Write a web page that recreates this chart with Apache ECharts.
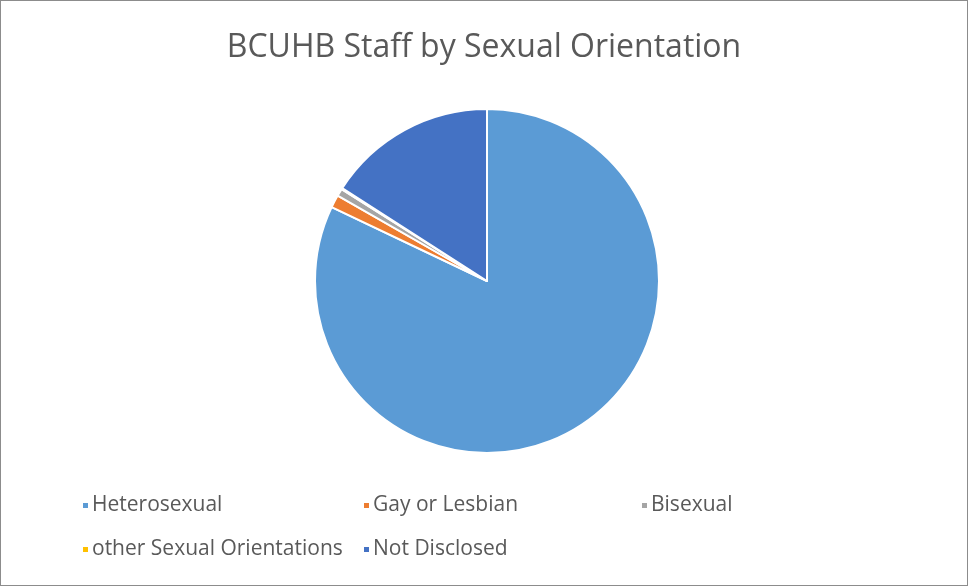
<!DOCTYPE html>
<html><head><meta charset="utf-8">
<script src="https://cdn.jsdelivr.net/npm/echarts@6/dist/echarts.min.js"></script>
<style>
html,body{margin:0;padding:0;background:#fff;}
#c{position:absolute;left:0;top:0;width:966px;height:584px;border:1px solid #8c8c8c;}
</style></head><body>
<div id="c"></div>
<script>
const categories = ["Heterosexual", "Gay or Lesbian", "Bisexual", "other Sexual Orientations", "Not Disclosed"];
const values = [81.9, 1.2, 0.7, 0.1, 15.9];
const colors = ["#5B9BD5", "#ED7D31", "#A5A5A5", "#FFC000", "#4472C4"];
const legendPos = [[75, 489], [356, 489], [634, 489], [75, 533], [356, 533]];

const chart = echarts.init(document.getElementById('c'));
const font = "'Open Sans', 'Noto Sans', sans-serif";
chart.setOption({
  animation: false,
  title: {
    text: "BCUHB Staff by Sexual Orientation",
    left: 'center', top: 26,
    textStyle: {fontFamily: font, fontSize: 32, fontWeight: 'normal', color: '#595959'}
  },
  legend: categories.map((c, i) => ({
    data: [c], left: legendPos[i][0], top: legendPos[i][1],
    icon: 'rect', itemWidth: 7, itemHeight: 7, itemGap: 3,
    textStyle: {fontFamily: font, fontSize: 21, color: '#595959', padding: [0,0,0,-2]}
  })),
  series: [{
    type: 'pie',
    center: [486, 280], radius: 172,
    startAngle: 90,
    label: {show: false}, labelLine: {show: false},
    itemStyle: {borderColor: '#fff', borderWidth: 2},
    data: categories.map((c, i) => ({name: c, value: values[i], itemStyle: {color: colors[i]}}))
  }]
});
</script></body></html>
